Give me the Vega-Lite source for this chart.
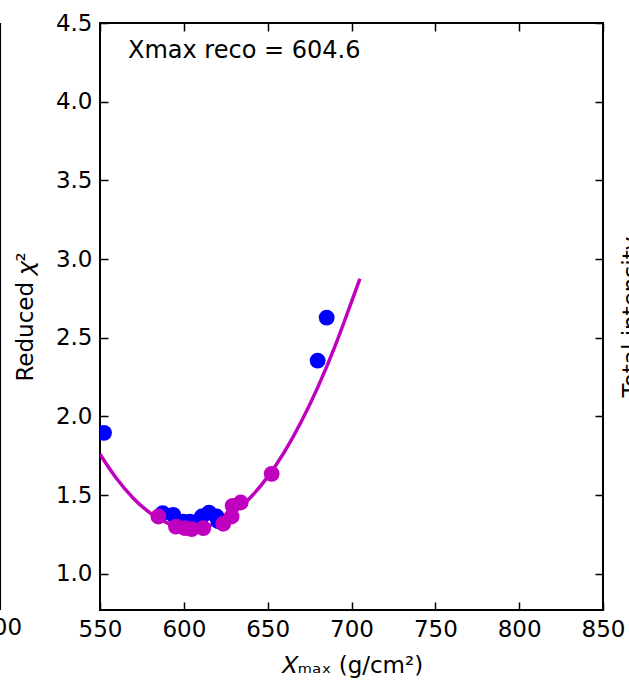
{
  "$schema": "https://vega.github.io/schema/vega-lite/v6.json",
  "width": 503,
  "height": 587,
  "autosize": "none",
  "padding": {"left": 100, "top": 23, "right": 26, "bottom": 73},
  "background": "white",
  "config": {
    "font": "DejaVu Sans",
    "view": {"stroke": "black", "strokeWidth": 2},
    "axis": {
      "domain": false,
      "grid": false,
      "tickColor": "black",
      "tickSize": -8,
      "tickWidth": 1.5,
      "labelFont": "DejaVu Sans",
      "labelFontSize": 23,
      "labelColor": "black",
      "labelFlush": false,
      "labelOverlap": false,
      "titleFont": "DejaVu Sans",
      "titleFontSize": 23,
      "titleColor": "black",
      "titleFontWeight": "normal"
    }
  },
  "datasets": {
    "curve": [
      {"x": 550, "y": 1.76},
      {"x": 560, "y": 1.604},
      {"x": 570, "y": 1.479},
      {"x": 580, "y": 1.386},
      {"x": 590, "y": 1.324},
      {"x": 600, "y": 1.293},
      {"x": 610, "y": 1.295},
      {"x": 620, "y": 1.327},
      {"x": 630, "y": 1.392},
      {"x": 640, "y": 1.488},
      {"x": 650, "y": 1.616},
      {"x": 660, "y": 1.775},
      {"x": 670, "y": 1.966},
      {"x": 680, "y": 2.188},
      {"x": 690, "y": 2.442},
      {"x": 700, "y": 2.728},
      {"x": 705, "y": 2.875}
    ],
    "blue": [
      {"x": 552.4, "y": 1.896},
      {"x": 587.4, "y": 1.386},
      {"x": 593.7, "y": 1.375},
      {"x": 599.7, "y": 1.332},
      {"x": 603.7, "y": 1.332},
      {"x": 610.7, "y": 1.364},
      {"x": 615.0, "y": 1.389},
      {"x": 619.6, "y": 1.364},
      {"x": 620.5, "y": 1.335},
      {"x": 679.8, "y": 2.355},
      {"x": 685.2, "y": 2.628}
    ],
    "magenta": [
      {"x": 584.8, "y": 1.364},
      {"x": 595.3, "y": 1.300},
      {"x": 600.7, "y": 1.290},
      {"x": 604.7, "y": 1.284},
      {"x": 611.6, "y": 1.290},
      {"x": 623.5, "y": 1.318},
      {"x": 628.5, "y": 1.364},
      {"x": 629.1, "y": 1.432},
      {"x": 633.9, "y": 1.453},
      {"x": 652.4, "y": 1.635}
    ],
    "annot": [
      {"x": 566.7, "y": 4.278, "label": "Xmax reco = 604.6"}
    ],
    "edge": [
      {"x": 490.4, "y": 0.656, "label": "800"}
    ]
  },
  "layer": [
    {
      "data": {"name": "curve"},
      "mark": {"type": "line", "color": "#BF00BF", "strokeWidth": 3.5, "interpolate": "monotone", "clip": true},
      "encoding": {
        "x": {
          "field": "x", "type": "quantitative",
          "scale": {"domain": [550, 850], "nice": false, "zero": false},
          "axis": {"orient": "bottom", "values": [550, 600, 650, 700, 750, 800, 850], "labelPadding": 16, "title": "𝑋ₘₐₓ (g/cm²)", "titlePadding": 13}
        },
        "y": {
          "field": "y", "type": "quantitative",
          "scale": {"domain": [0.77, 4.5], "nice": false, "zero": false},
          "axis": {"orient": "left", "values": [1, 1.5, 2, 2.5, 3, 3.5, 4, 4.5], "format": ".1f", "labelPadding": 16, "title": "Reduced 𝜒²", "titlePadding": 18}
        }
      }
    },
    {
      "data": {"name": "blue"},
      "mark": {"type": "circle", "color": "#0000FF", "opacity": 1, "size": 250, "clip": true},
      "encoding": {
        "x": {"field": "x", "type": "quantitative", "axis": {"orient": "top", "labels": false, "title": null, "values": [550, 600, 650, 700, 750, 800, 850]}},
        "y": {"field": "y", "type": "quantitative", "axis": {"orient": "right", "labels": false, "values": [1, 1.5, 2, 2.5, 3, 3.5, 4, 4.5], "title": "Total intensity", "titleAngle": 270, "titlePadding": 40}}
      }
    },
    {
      "data": {"name": "magenta"},
      "mark": {"type": "circle", "color": "#BF00BF", "opacity": 1, "size": 250, "clip": true},
      "encoding": {
        "x": {"field": "x", "type": "quantitative", "axis": null},
        "y": {"field": "y", "type": "quantitative", "axis": null}
      }
    },
    {
      "data": {"name": "annot"},
      "mark": {"type": "text", "color": "black", "fontSize": 24, "font": "DejaVu Sans", "baseline": "alphabetic", "align": "left"},
      "encoding": {
        "x": {"field": "x", "type": "quantitative", "axis": null},
        "y": {"field": "y", "type": "quantitative", "axis": null},
        "text": {"field": "label"}
      }
    },
    {
      "data": {"name": "edge"},
      "mark": {"type": "rule", "color": "black", "strokeWidth": 2},
      "encoding": {
        "x": {"field": "x", "type": "quantitative", "axis": null}
      }
    },
    {
      "data": {"name": "edge"},
      "mark": {"type": "text", "color": "black", "fontSize": 23, "font": "DejaVu Sans", "baseline": "middle", "align": "center"},
      "encoding": {
        "x": {"field": "x", "type": "quantitative", "axis": null},
        "y": {"field": "y", "type": "quantitative", "axis": null},
        "text": {"field": "label"}
      }
    }
  ],
  "resolve": {"axis": {"x": "independent", "y": "independent"}}
}
